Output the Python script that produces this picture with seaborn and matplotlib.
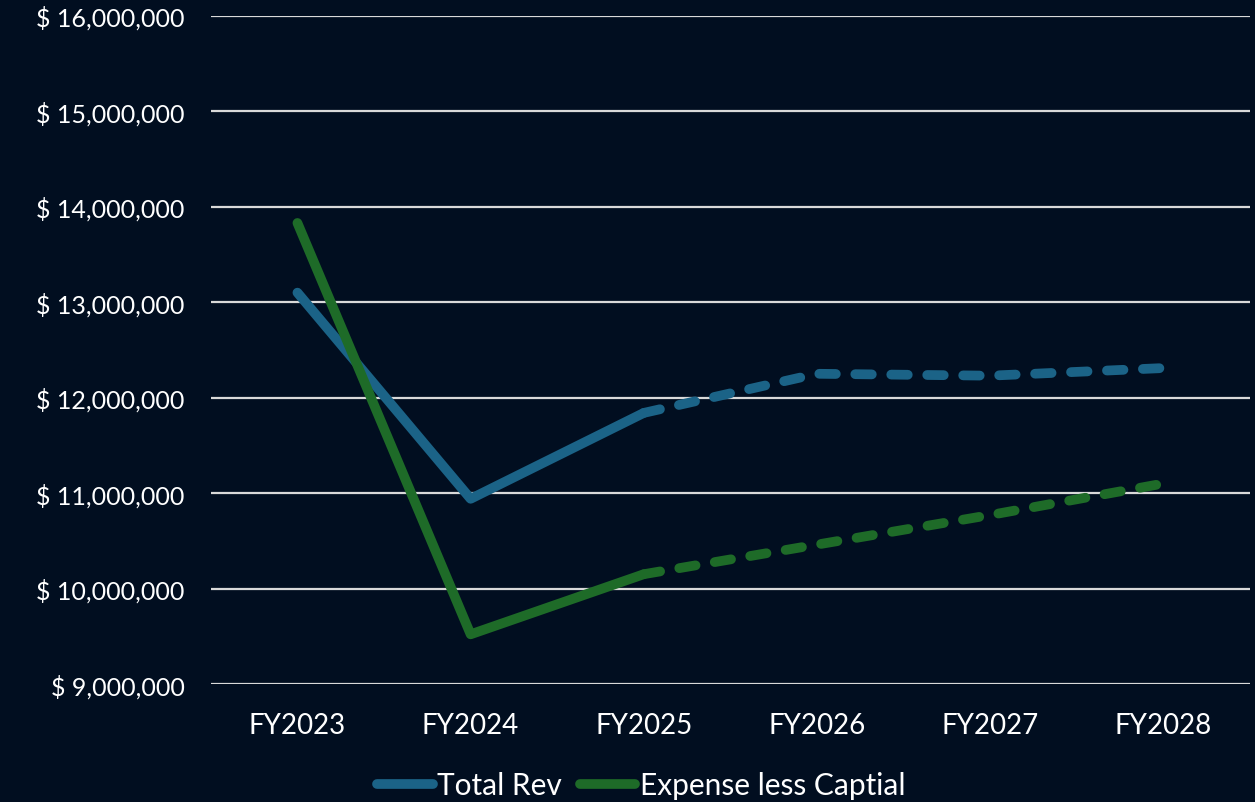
import matplotlib
matplotlib.use("Agg")
import matplotlib.pyplot as plt
from matplotlib.ticker import FuncFormatter
from matplotlib.lines import Line2D
import seaborn as sns
import pandas as pd

# Fiscal years and the two series (USD)
years = ["FY2023", "FY2024", "FY2025", "FY2026", "FY2027", "FY2028"]
total_rev = [13100000, 10940000, 11840000, 12250000, 12230000, 12310000]
expense_less_capital = [13830000, 9520000, 10150000, 10460000, 10770000, 11100000]
series_names = ["Total Rev", "Expense less Captial"]
actual_count = 3  # FY2023–FY2025 are actuals, the rest projected

bg = "#010E20"
blue = "#1B6387"
green = "#1E6B28"
grid_c = "#D9D9D9"
text_c = "#FFFFFF"

sns.set_theme(style="dark")
plt.rcParams["font.family"] = ["Lato", "DejaVu Sans"]

rows = []
for name, vals in zip(series_names, [total_rev, expense_less_capital]):
    for i, (yr, v) in enumerate(zip(years, vals)):
        if i < actual_count:
            rows.append(dict(series=name, part="actual", x=i, year=yr, value=v))
        if i >= actual_count - 1:
            rows.append(dict(series=name, part="projected", x=i, year=yr, value=v))
df = pd.DataFrame(rows)

fig = plt.figure(figsize=(12.55, 8.03), dpi=100, facecolor=bg)
ax = fig.add_axes([0.168, 0.147, 0.828, 0.832])
ax.set_facecolor(bg)

palette = {series_names[0]: blue, series_names[1]: green}
lw = 7
for name in series_names:
    sub = df[df.series == name]
    a = sub[sub.part == "actual"]
    p = sub[sub.part == "projected"]
    sns.lineplot(data=a, x="x", y="value", color=palette[name], lw=lw,
                 ax=ax, solid_capstyle="round", solid_joinstyle="round",
                 legend=False, zorder=3)
    sns.lineplot(data=p, x="x", y="value", color=palette[name], lw=lw,
                 ax=ax, dashes=False, legend=False, zorder=3)
    ax.lines[-1].set_dashes([1.7, 2.0])
    ax.lines[-1].set_dash_capstyle("round")
    ax.lines[-1].set_solid_joinstyle("round")

ax.set_xlim(-0.5, len(years) - 0.5)
ax.set_ylim(9000000, 16000000)
ax.set_xticks(range(len(years)))
ax.set_xticklabels(years)
ax.set_yticks(range(9000000, 16000001, 1000000))
ax.yaxis.set_major_formatter(FuncFormatter(lambda v, _: f"$ {v:,.0f}"))
ax.tick_params(axis="y", colors=text_c, labelsize=18, length=0, pad=19)
ax.tick_params(axis="x", colors=text_c, labelsize=20, length=0, pad=20)
ax.set_xlabel("")
ax.set_ylabel("")
ax.grid(axis="y", color=grid_c, lw=1.6)
ax.grid(axis="x", visible=False)
for s in ax.spines.values():
    s.set_visible(False)

handles = [Line2D([0], [0], color=blue, lw=lw, solid_capstyle="round"),
           Line2D([0], [0], color=green, lw=lw, solid_capstyle="round")]
fig.legend(handles, series_names, loc="center", bbox_to_anchor=(0.511, 0.021),
           ncol=2, frameon=False, fontsize=21.5, labelcolor=text_c,
           handlelength=1.85, handletextpad=0.15, columnspacing=0.6)

fig.savefig("out.png", dpi=100, facecolor=bg)
